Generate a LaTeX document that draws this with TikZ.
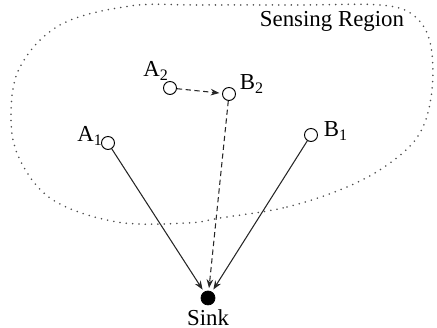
\documentclass[tikz,border=0pt]{standalone}
\usepackage{fontspec}
\setmainfont{Liberation Serif}
\usetikzlibrary{positioning}
\usetikzlibrary{arrows.meta}

\begin{document}
\begin{tikzpicture}[
    font=\fontsize{13}{15}\selectfont,
    >={Stealth[length=5pt, width=3.8pt, inset=1.6pt]},
    sensor/.style={draw, circle, line width=0.55pt, inner sep=0pt, minimum size=0.26cm},
    sinknode/.style={draw, circle, fill=black, inner sep=0pt, minimum size=0.28cm},
    route/.style={->, line width=0.6pt, shorten >=1.5pt, black!85},
    relay/.style={route, dash pattern=on 3pt off 2pt},
    region/.style={black!70, line width=1pt, dash pattern=on 0pt off 3.6pt, line cap=round},
  ]
    \useasboundingbox (0,0) rectangle (8.74,6.56);

    % sensing region
    \draw[region] plot[smooth cycle, tension=0.6] coordinates {
      (4.40,2.20) (5.74,2.42) (6.94,2.82) (7.80,3.30) (8.40,3.90)
      (8.64,4.76) (8.60,5.72) (8.26,6.26) (7.60,6.46) (6.00,6.46)
      (4.00,6.46) (2.60,6.44) (1.20,6.06) (0.40,5.22) (0.22,4.22)
      (0.40,3.36) (1.06,2.56) (2.34,2.12) (3.74,2.10)};
    \node[anchor=base] (title) at (6.64,6.02) {Sensing Region};

    % sensors and sink
    \node[sensor] (a1) at (2.16,3.70) {};
    \node[sensor] (a2) at (3.40,4.80) {};
    \node[sensor] (b2) at (4.58,4.68) {};
    \node[sensor] (b1) at (6.22,3.86) {};
    \node[sinknode] (sink) at (4.16,0.60) {};

    \node[anchor=base] (a1lbl) at (1.80,3.72) {A\textsubscript{1}};
    \node[anchor=base] (a2lbl) at (3.12,5.02) {A\textsubscript{2}};
    \node[anchor=base] (b2lbl) at (5.04,4.76) {B\textsubscript{2}};
    \node[anchor=base] (b1lbl) at (6.72,3.82) {B\textsubscript{1}};
    \node[below=-1pt of sink] (sinklbl) {Sink};

    % routes
    \draw[route] (a1) -- (sink);
    \draw[route] (b1) -- (sink);
    \draw[relay] (a2) -- (b2);
    \draw[relay] (b2) -- (sink);
\end{tikzpicture}
\end{document}
